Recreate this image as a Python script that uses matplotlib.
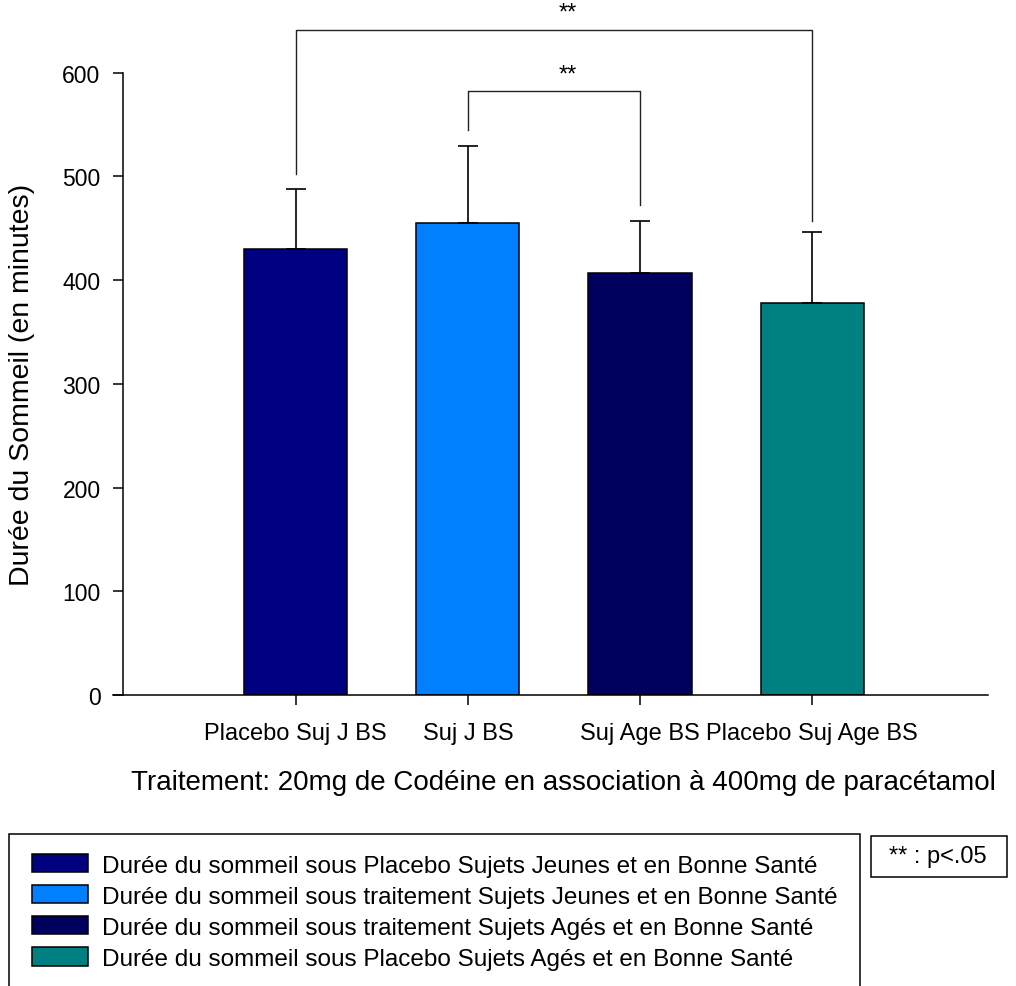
import matplotlib
matplotlib.use("Agg")
import matplotlib.pyplot as plt
from matplotlib.patches import Rectangle
from matplotlib import rcParams

rcParams.update({
    "font.family": "Liberation Sans",
    "axes.linewidth": 1.1,
})

categories = ["Placebo Suj J BS", "Suj J BS", "Suj Age BS", "Placebo Suj Age BS"]
means = [430, 455, 407, 378]
sem = [58, 74, 50, 68]
colors = ["#000080", "#0080FF", "#00005E", "#008080"]
legend_labels = [
    "Durée du sommeil sous Placebo Sujets Jeunes et en Bonne Santé",
    "Durée du sommeil sous traitement Sujets Jeunes et en Bonne Santé",
    "Durée du sommeil sous traitement Sujets Agés et en Bonne Santé",
    "Durée du sommeil sous Placebo Sujets Agés et en Bonne Santé",
]
# significance brackets: (left bar, right bar, top, left leg end, right leg end)
brackets = [
    (0, 3, 641, 502, 457),
    (1, 2, 582, 545, 472),
]

W, H = 1016, 987
fig = plt.figure(figsize=(W / 100, H / 100), dpi=100, facecolor="white")
ax = fig.add_axes([113 / W, 1 - 696 / H, 875 / W, 695 / H])
x = list(range(len(categories)))

bars = ax.bar(x, means, width=0.6, color=colors, edgecolor="black", linewidth=1.1,
              yerr=[[0] * len(sem), sem], capsize=7,
              error_kw=dict(elinewidth=1.2, capthick=1.2, ecolor="black"))

ax.set_xlim(-1.06, 4.02)
ax.set_ylim(0, 670)
ax.set_yticks([0, 100, 200, 300, 400, 500, 600])
ax.set_xticks(x)
ax.set_xticklabels(categories)
ax.spines["top"].set_visible(False)
ax.spines["right"].set_visible(False)
ax.spines["left"].set_bounds(0, 600)
ax.spines["left"].set_position(("outward", -7.2))
ax.tick_params(axis="both", direction="out", length=7.2, width=1.1)
ax.tick_params(axis="y", labelsize=16.5, pad=9)
ax.tick_params(axis="x", labelsize=17, pad=12)

# significance markers, both centred a little right of the brackets' middle
for i, j, top, yl, yr in brackets:
    ax.plot([i, i, j, j], [yl, top, top, yr], color="#222222", lw=1.0, clip_on=False)
    ax.text(1.55 + 0.03, top + 6, "**", ha="center", va="bottom",
            fontsize=17, clip_on=False)

fig.text(22 / W, 1 - 385 / H, "Durée du Sommeil (en minutes)", rotation=90,
         ha="center", va="center", fontsize=20.5)
fig.text(563 / W, 1 - 783 / H,
         "Traitement: 20mg de Codéine en association à 400mg de paracétamol",
         ha="center", va="center", fontsize=20)

# legend box (runs past the bottom edge)
fig.patches.append(Rectangle((9 / W, -0.02), 851 / W, 0.02 + (1 - 835 / H),
                             transform=fig.transFigure, fill=False, edgecolor="black", lw=1.1))
fig.legend(handles=list(bars), labels=legend_labels, loc="upper left",
           bbox_to_anchor=(32 / W, 1 - 855 / H), frameon=False, fontsize=17.5,
           handlelength=2.3, handleheight=0.78, handletextpad=0.58, labelspacing=0.35,
           borderaxespad=0, borderpad=0)

fig.patches.append(Rectangle((871 / W, 1 - 878 / H), 136 / W, 41 / H,
                             transform=fig.transFigure, fill=False, edgecolor="black", lw=1.1))
fig.text(938 / W, 1 - 857 / H, "** : p<.05", ha="center", va="center", fontsize=17)

fig.savefig("out.png", dpi=100)
plt.close(fig)
